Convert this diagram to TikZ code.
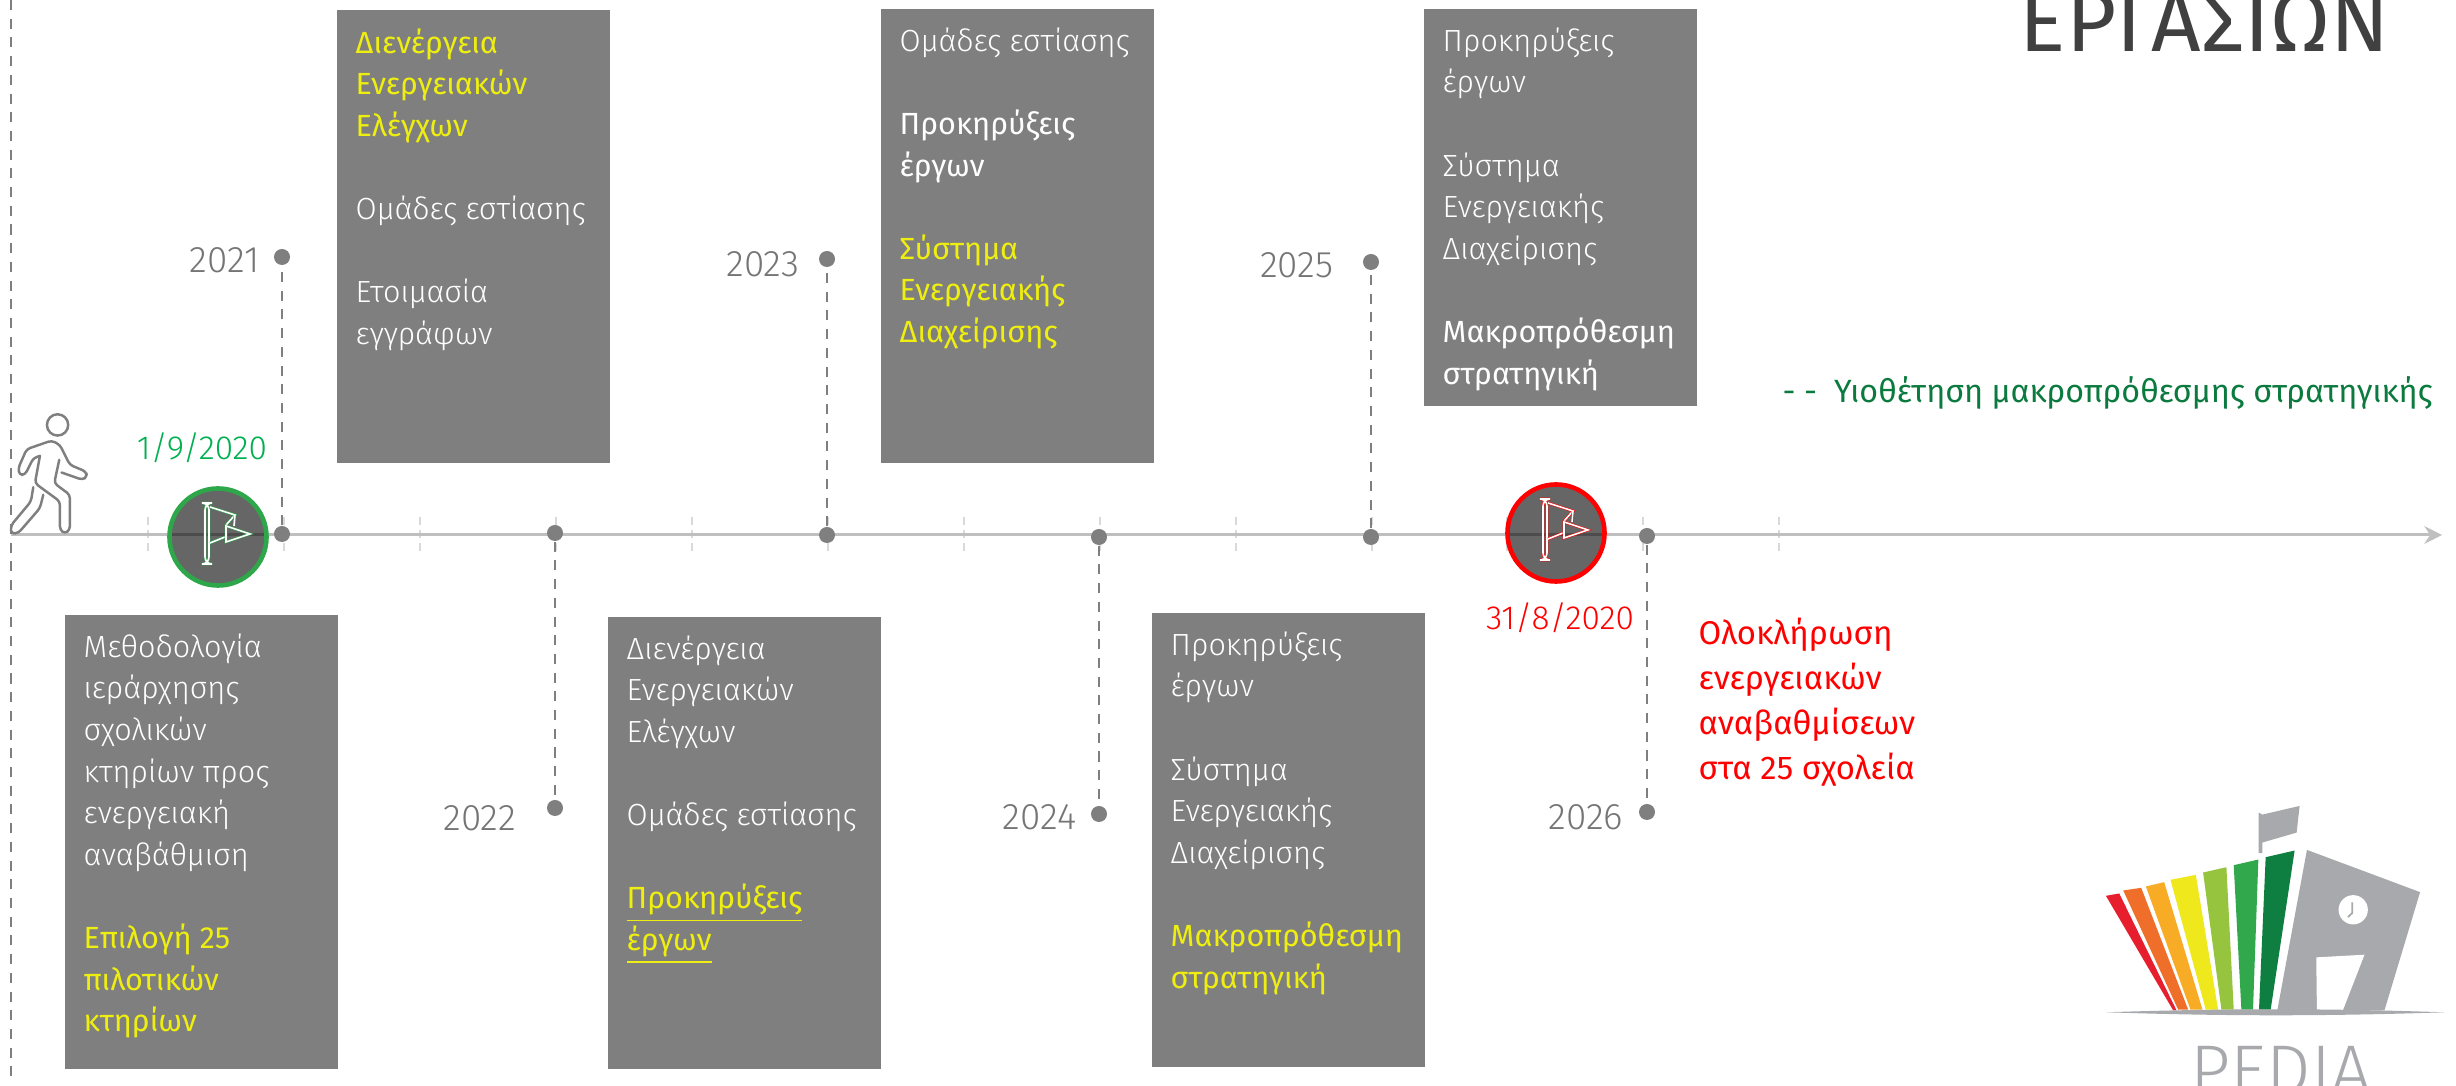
\documentclass[tikz,border=0pt]{standalone}
\usepackage{fontspec}
\usepackage{tikz}
\usetikzlibrary{positioning, shapes, shapes.geometric, arrows.meta}
\setmainfont{Fira Sans}[UprightFont=* Light, BoldFont=*]
\definecolor{boxgray}{HTML}{7F7F7F}
\definecolor{yeargray}{HTML}{757575}
\definecolor{linegray}{HTML}{BFBFBF}
\definecolor{tickgray}{HTML}{D9D9D9}
\definecolor{titlegray}{HTML}{404040}
\definecolor{hlyellow}{HTML}{EEEE10}
\definecolor{startgreen}{HTML}{00B050}
\definecolor{ringgreen}{HTML}{2EA64A}
\definecolor{darkgreen}{HTML}{0B7A3E}
\definecolor{logogray}{HTML}{A7A9AC}
\newcommand{\hlt}[1]{{\color{hlyellow}\bfseries #1}}
\newcommand{\flagicon}[2]{
	\begin{scope}[shift={(#1)}]
		\draw[flagline=#2, rounded corners=2pt] (-13,-34) rectangle (-9,27);
		\draw[flagline=#2] (-8,-30) -- (17,-22) -- (8,-12);
		\draw[flagline=#2] (-8,6) -- (7,0);
		\draw[flagline=#2] (17,-22) -- (16,-11);
		\draw[flagline=#2] (8,-11) -- (32,-3) -- (8,5) -- cycle;
	\end{scope}
}
\tikzset{
	taskbox/.style={fill=boxgray, inner sep=0pt, minimum width=2.73cm, anchor=north west},
	tasktext/.style={text=white, inner sep=0pt, anchor=north west, align=left, xshift=19*0.01cm, yshift=-19*0.01cm, font=\fontsize{8.7}{11.83}\selectfont},
	yeardot/.style={circle, fill=boxgray, inner sep=0pt, minimum size=0.16cm},
	yearlabel/.style={text=yeargray, inner sep=0pt, anchor=east, font=\fontsize{10.5}{13}\selectfont},
	stem/.style={boxgray, line width=0.75pt, dash pattern=on 2.85pt off 2.47pt},
	timetick/.style={tickgray, line width=0.7pt, dash pattern=on 2.2pt off 1.5pt},
	flagdisc/.style={circle, fill=black, fill opacity=0.6, line width=1.3pt, inner sep=0pt, minimum size=0.97cm},
	flagline/.style={draw=#1, line width=0.15pt, double=white, double distance=0.45pt},
}
\begin{document}
\begin{tikzpicture}[x=0.01cm, y=-0.01cm]
	\clip (0,0) rectangle (2456,1086);
	\fill[white] (0,0) rectangle (2456,1086);

	% Draw the title
	\node[text=titlegray, inner sep=0pt, anchor=base east, font=\fontsize{24.6}{30}\selectfont\bfseries] (Title) at (2390,52) {ΕΡΓΑΣΙΩΝ};

	% Draw the ticks on the time line
	\draw[timetick] (148,517) -- (148,553);
	\draw[timetick] (284,517) -- (284,553);
	\draw[timetick] (420,517) -- (420,553);
	\draw[timetick] (556,517) -- (556,553);
	\draw[timetick] (692,517) -- (692,553);
	\draw[timetick] (828,517) -- (828,553);
	\draw[timetick] (964,517) -- (964,553);
	\draw[timetick] (1100,517) -- (1100,553);
	\draw[timetick] (1236,517) -- (1236,553);
	\draw[timetick] (1372,517) -- (1372,553);
	\draw[timetick] (1507,517) -- (1507,553);
	\draw[timetick] (1643,517) -- (1643,553);
	\draw[timetick] (1779,517) -- (1779,553);

	% Draw the time line
	\coordinate (LineStart) at (11,535);
	\coordinate (LineEnd) at (2442,535);
	\draw[linegray, line width=0.85pt, -{Stealth[length=5pt, width=5pt]}] (LineStart) -- (LineEnd);

	% Draw the start line
	\coordinate (StartTop) at (11,0);
	\coordinate (StartBottom) at (11,1079);
	\draw[stem] (StartTop) -- (StartBottom);

	% Draw the year dots and stems
	\node[yeardot] (Dot21) at (282,534) {};
	\node[yeardot] (Top21) at (282,257) {};
	\node[yeardot] (Dot22) at (555,533) {};
	\node[yeardot] (End22) at (555,808) {};
	\node[yeardot] (Dot23) at (827,535) {};
	\node[yeardot] (Top23) at (827,259) {};
	\node[yeardot] (Dot24) at (1099,537) {};
	\node[yeardot] (End24) at (1099,814) {};
	\node[yeardot] (Dot25) at (1371,537) {};
	\node[yeardot] (Top25) at (1371,262) {};
	\node[yeardot] (Dot26) at (1647,536) {};
	\node[yeardot] (End26) at (1647,812) {};
	\draw[stem] (Dot21) -- (Top21);
	\draw[stem] (Dot22) -- (End22);
	\draw[stem] (Dot23) -- (Top23);
	\draw[stem] (Dot24) -- (End24);
	\draw[stem] (Dot25) -- (Top25);
	\draw[stem] (Dot26) -- (End26);

	% Draw the year labels
	\node[yearlabel] (Year21) at (260,260) {2021};
	\node[yearlabel] (Year22) at (517,818) {2022};
	\node[yearlabel] (Year23) at (800,264) {2023};
	\node[yearlabel] (Year24) at (1077,817) {2024};
	\node[yearlabel] (Year25) at (1334,265) {2025};
	\node[yearlabel] (Year26) at (1624,817) {2026};

	% Draw the boxes above the line
	\node[taskbox, minimum height=4.53cm] (Box21) at (336,9) {};
	\node[tasktext] (Text21) at (Box21.north west) {\hlt{Διενέργεια}\\\hlt{Ενεργειακών}\\\hlt{Ελέγχων}\\[41.6*0.01cm]Ομάδες εστίασης\\[41.6*0.01cm]Ετοιμασία\\εγγράφων};

	\node[taskbox, minimum height=4.54cm] (Box23) at (880,8) {};
	\node[tasktext] (Text23) at (Box23.north west) {Ομάδες εστίασης\\[41.6*0.01cm]\textbf{Προκηρύξεις}\\\textbf{έργων}\\[41.6*0.01cm]\hlt{Σύστημα}\\\hlt{Ενεργειακής}\\\hlt{Διαχείρισης}};

	\node[taskbox, minimum height=3.97cm] (Box25) at (1423,8) {};
	\node[tasktext] (Text25) at (Box25.north west) {Προκηρύξεις\\έργων\\[41.6*0.01cm]Σύστημα\\Ενεργειακής\\Διαχείρισης\\[41.6*0.01cm]\textbf{Μακροπρόθεσμη}\\\textbf{στρατηγική}};

	% Draw the boxes below the line
	\node[taskbox, minimum height=4.54cm] (Box20) at (64,614) {};
	\node[tasktext] (Text20) at (Box20.north west) {Μεθοδολογία\\ιεράρχησης\\σχολικών\\κτηρίων προς\\ενεργειακή\\αναβάθμιση\\[41.6*0.01cm]\hlt{Επιλογή 25}\\\hlt{πιλοτικών}\\\hlt{κτηρίων}};

	\node[taskbox, minimum height=4.52cm] (Box22) at (607,616) {};
	\node[tasktext] (Text22) at (Box22.north west) {Διενέργεια\\Ενεργειακών\\Ελέγχων\\[41.6*0.01cm]Ομάδες εστίασης\\[41.6*0.01cm]\hlt{\underline{Προκηρύξεις}}\\\hlt{\underline{έργων}}};

	\node[taskbox, minimum height=4.54cm] (Box24) at (1151,612) {};
	\node[tasktext] (Text24) at (Box24.north west) {Προκηρύξεις\\έργων\\[41.6*0.01cm]Σύστημα\\Ενεργειακής\\Διαχείρισης\\[41.6*0.01cm]\hlt{Μακροπρόθεσμη}\\\hlt{στρατηγική}};

	% Draw the flags
	\node[flagdisc, draw=ringgreen] (StartFlag) at (218,537) {};
	\flagicon{218,537}{ringgreen}
	\node[flagdisc, draw=red] (EndFlag) at (1556,533) {};
	\flagicon{1556,533}{red}

	% Draw the dates and notes
	\node[text=startgreen, inner sep=0pt, font=\fontsize{9.5}{12}\selectfont] (StartDate) at (202,448) {1/9/2020};
	\node[text=red, inner sep=0pt, font=\fontsize{9.5}{12}\selectfont] (EndDate) at (1560,618) {31/8/2020};
	\node[text=darkgreen, inner sep=0pt, anchor=west, font=\fontsize{9.15}{12}\selectfont\bfseries] (Adopt) at (1782,393) {- -\ \ Υιοθέτηση μακροπρόθεσμης στρατηγικής};
	\node[text=red, inner sep=0pt, anchor=north west, align=left, font=\fontsize{9.35}{12.8}\selectfont\bfseries] (Finish) at (1698,617) {Ολοκλήρωση\\ενεργειακών\\αναβαθμίσεων\\στα 25 σχολεία};

	% Draw the walking man
	\begin{scope}[shift={(0,380)}, x=0.00333cm, y=-0.00333cm, boxgray, line width=0.7pt, line join=round, line cap=round, rounded corners=1pt]
		\draw (173,135) circle (32);
		\draw (120,228) -- (100,235) -- (75,285) -- (58,285) -- (55,265) -- (80,208) -- (155,182) -- (180,195) -- (210,255) -- (258,275) -- (262,290) -- (248,300) -- (185,278);
		\draw (120,228) -- (105,310) -- (180,365) -- (180,450) -- (195,462) -- (210,450) -- (210,345) -- (163,310) -- (178,240);
		\draw (100,322) -- (93,365) -- (33,437) -- (33,462) -- (55,460) -- (120,385) -- (130,345);
	\end{scope}

	% Draw the logo
	\begin{scope}[shift={(2060,780)}, x=0.00333cm, y=-0.00333cm]
		\fill[fill={rgb,255:red,230;green,30;blue,45}] (138,348) -- (178,341) -- (350,692) -- (340,692) -- cycle;
		\fill[fill={rgb,255:red,238;green,110;blue,42}] (190,332) -- (244,324) -- (385,690) -- (355,690) -- cycle;
		\fill[fill={rgb,255:red,248;green,171;blue,36}] (258,320) -- (313,307) -- (428,690) -- (392,690) -- cycle;
		\fill[fill={rgb,255:red,238;green,232;blue,28}] (332,300) -- (408,285) -- (475,690) -- (438,690) -- cycle;
		\fill[fill={rgb,255:red,150;green,196;blue,63}] (430,278) -- (500,262) -- (522,690) -- (485,690) -- cycle;
		\fill[fill={rgb,255:red,50;green,168;blue,76}] (522,256) -- (596,239) -- (580,690) -- (545,690) -- cycle;
		\fill[fill={rgb,255:red,15;green,127;blue,65}] (618,232) -- (705,212) -- (633,690) -- (598,690) -- cycle;
		\fill[logogray] (742,210) -- (1082,337) -- (975,692) -- (653,692) -- cycle;
		\fill[white] (770,533) -- (915,525) -- (850,692) -- (772,692) -- cycle;
		\fill[white] (881,390) circle (44);
		\draw[logogray, line width=0.5pt] (878,368) -- (878,400) -- (865,412);
		\fill[logogray] (597,98) -- (608,104) -- (720,78) -- (711,158) -- (608,188) -- (608,220) -- (597,220) -- cycle;
		\fill[logogray] (140,698) .. controls (500,686) and (800,686) .. (1155,698) .. controls (800,710) and (500,710) .. (140,698) -- cycle;
	\end{scope}
	\node[text=logogray, inner sep=0pt, anchor=base west, font=\fontsize{20}{24}\selectfont] (Pedia) at (2190,1095) {PEDIA};
\end{tikzpicture}
\end{document}
